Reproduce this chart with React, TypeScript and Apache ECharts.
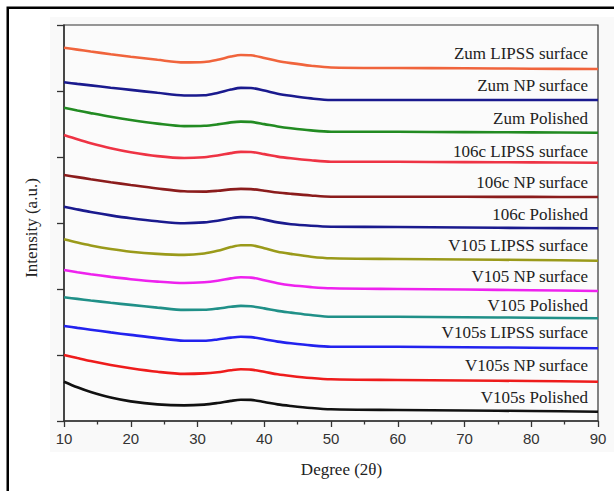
import React, { useEffect, useRef } from "react";
import * as echarts from "echarts";

const degrees = [10, 12, 14, 17, 20, 24, 28, 31, 33, 35, 36.5, 38, 40, 42, 44, 47, 50, 60, 70, 80, 90];

const zumLipss = [373.3, 371.4, 369.5, 366.8, 364.3, 361.2, 358.6, 359.0, 361.2, 364.4, 366.0, 365.7, 363.1, 360.0, 357.9, 355.3, 353.5, 353, 352.7, 352.3, 352];
const zumNp = [338.7, 337.1, 335.6, 333.3, 331.1, 328.2, 325.5, 325.7, 328.1, 331.4, 333.1, 333.0, 330.4, 327.3, 325.2, 322.6, 321, 321, 321, 321, 321];
const zumPolished = [313.3, 310.5, 307.9, 304.2, 301.0, 297.4, 294.9, 295.2, 296.6, 298.6, 299.4, 299.1, 296.9, 294.5, 292.7, 290.6, 289.3, 289.2, 288.9, 288.6, 288.3];
const c106Lipss = [286, 281.7, 277.8, 272.8, 268.8, 264.9, 263.0, 263.8, 265.5, 267.9, 269.1, 269.0, 266.9, 264.4, 262.7, 260.7, 259.3, 259.2, 258.9, 258.6, 258.3];
const c106Np = [246, 243.9, 241.8, 238.8, 236.0, 232.5, 229.7, 229.4, 230.2, 231.6, 232.1, 231.9, 230.3, 228.5, 227.2, 225.5, 224.3, 224.3, 224.2, 224.1, 224];
const c106Polished = [214.3, 211.6, 209.0, 205.6, 202.7, 199.7, 197.8, 198.6, 200.3, 202.7, 203.9, 203.7, 201.4, 198.6, 196.7, 195.2, 194.3, 194, 193.5, 193, 192.7];
const v105Lipss = [181.7, 178.4, 175.5, 172.0, 169.3, 167.1, 166.1, 167.5, 170.2, 173.9, 175.8, 175.7, 172.8, 169.3, 167.1, 164.3, 162.7, 162, 161.5, 161, 160.3];
const v105Np = [151, 148.8, 146.8, 144.1, 141.8, 139.4, 138.0, 138.8, 140.3, 142.6, 143.7, 143.4, 140.8, 137.8, 135.7, 133.9, 132.7, 132, 131.5, 130.8, 130];
const v105Polished = [123.7, 122.1, 120.5, 118.2, 116.1, 113.4, 111.1, 111.2, 112.4, 114.2, 115.1, 114.7, 112.6, 110.1, 108.4, 106.0, 104.3, 104.2, 103.8, 103.3, 102.7];
const v105sLipss = [95, 93.1, 91.3, 88.6, 86.1, 82.9, 80.3, 80.2, 81.5, 83.4, 84.3, 83.9, 81.8, 79.4, 77.7, 75.6, 74.3, 74.2, 73.8, 73.3, 72.7];
const v105sNp = [66, 62.9, 59.9, 56.0, 52.7, 49.2, 47.1, 47.6, 48.8, 50.7, 51.7, 51.4, 49.2, 46.7, 45.0, 43.0, 41.7, 41, 40.5, 40, 39.3];
const v105sPolished = [39.3, 33.7, 29.0, 23.4, 19.6, 16.6, 15.6, 16.4, 18.0, 20.1, 21.2, 21.1, 19.0, 16.6, 15.0, 13.0, 11.7, 11, 10.5, 10, 9.3];

const seriesNames = [
  "Zum LIPSS surface",
  "Zum NP surface",
  "Zum Polished",
  "106c LIPSS surface",
  "106c NP surface",
  "106c Polished",
  "V105 LIPSS surface",
  "V105 NP surface",
  "V105 Polished",
  "V105s LIPSS surface",
  "V105s NP surface",
  "V105s Polished",
];
const seriesValues = [
  zumLipss, zumNp, zumPolished, c106Lipss, c106Np, c106Polished,
  v105Lipss, v105Np, v105Polished, v105sLipss, v105sNp, v105sPolished,
];
const seriesColors = [
  "#f0643c", "#1a1a8e", "#228b22", "#ee3344", "#8b1c1c", "#1a1a8e",
  "#9a9a1a", "#ee22ee", "#209088", "#2222ee", "#ee1c1c", "#111111",
];
const labelY = [53, 85, 118, 151, 182, 214, 245, 276, 305, 332, 365, 397];

const xTicks = [10, 20, 30, 40, 50, 60, 70, 80, 90];

export default function App() {
  const ref = useRef<HTMLDivElement>(null);
  useEffect(() => {
    if (!ref.current) return;
    const chart = echarts.init(ref.current, null, { renderer: "svg" });
    const serif = "Liberation Serif";
    const sans = "Liberation Sans";
    const textStyle = (text: string, align: string) => ({
      text,
      fontSize: 17,
      fontFamily: serif,
      fill: "#222",
      align,
      verticalAlign: "middle",
    });
    const graphics: any[] = [
      {
        type: "rect",
        z: -10,
        shape: { x: 50, y: 17, width: 570, height: 435 },
        style: { fill: "#f9f9f9" },
        silent: true,
      },
      {
        type: "rect",
        z: 100,
        shape: { x: 7.75, y: 7.75, width: 800, height: 800 },
        style: { fill: "none", stroke: "#000", lineWidth: 2.5 },
        silent: true,
      },
      {
        type: "text",
        x: 31.5,
        y: 228,
        rotation: Math.PI / 2,
        style: textStyle("Intensity (a.u.)", "center"),
      },
      {
        type: "text",
        x: 341.5,
        y: 469,
        style: textStyle("Degree (2θ)", "center"),
      },
    ];
    seriesNames.forEach((n, i) => {
      graphics.push({
        type: "text",
        x: 588,
        y: labelY[i],
        style: textStyle(n, "right"),
      });
    });

    chart.setOption({
      animation: false,
      backgroundColor: "#ffffff",
      grid: {
        left: 64,
        top: 25,
        right: 16,
        bottom: 70,
        show: true,
        borderColor: "#333",
        borderWidth: 1.2,
        backgroundColor: "#fbfbfb",
      },
      xAxis: {
        type: "value",
        min: 10,
        max: 90,
        interval: 10,
        axisLine: { show: true, lineStyle: { color: "#333", width: 1.5 } },
        axisTick: { show: true, inside: false, length: 6, lineStyle: { color: "#333", width: 1.3 } },
        minorTick: { show: true, splitNumber: 2, length: 3.5, lineStyle: { color: "#333", width: 1.3 } },
        splitLine: { show: false },
        axisLabel: {
          margin: 10,
          fontSize: 15,
          fontFamily: sans,
          color: "#333",
          formatter: (v: number) => (xTicks.includes(v) ? String(v) : ""),
        },
      },
      yAxis: {
        type: "value",
        min: 0,
        max: 396,
        interval: 66,
        axisLine: { show: true, lineStyle: { color: "#333", width: 1.5 } },
        axisTick: { show: true, inside: false, length: 7, lineStyle: { color: "#333", width: 1.3 } },
        splitLine: { show: false },
        axisLabel: { show: false },
      },
      graphic: graphics,
      series: seriesNames.map((name, i) => ({
        name,
        type: "line",
        showSymbol: false,
        smooth: 0.3,
        lineStyle: { color: seriesColors[i], width: 2.6 },
        itemStyle: { color: seriesColors[i] },
        data: degrees.map((d, j) => [d, seriesValues[i][j]]),
      })),
    });
    return () => chart.dispose();
  }, []);
  return (
    <div
      ref={ref}
      style={{ position: "absolute", left: 0, top: 0, width: 614, height: 491 }}
    />
  );
}
